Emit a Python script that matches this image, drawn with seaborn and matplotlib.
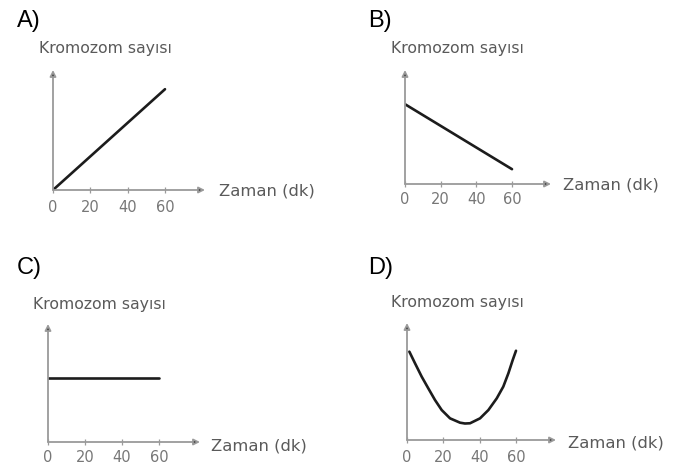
import numpy as np
import pandas as pd
import seaborn as sns
import matplotlib.pyplot as plt

# Values (y in units of 0-10 along each arrow axis)
zaman_A = [0, 60]
kromozom_A = [0, 8.4]

zaman_B = [0, 60]
kromozom_B = [7.0, 1.3]

zaman_C = [0, 60]
kromozom_C = [5.4, 5.4]

zaman_D = [1.3, 4.4, 8.1, 11.7, 15.4, 19.1, 23.7, 29.2, 31.9, 34.7,
           40.2, 44.8, 49.4, 53.0, 55.8, 58.2, 60.0]
kromozom_D = [7.55, 6.56, 5.41, 4.42, 3.42, 2.56, 1.85, 1.48, 1.41, 1.43,
              1.85, 2.56, 3.56, 4.56, 5.70, 6.84, 7.63]

tick_vals = [0, 20, 40, 60]
tick_labels = ['0', '20', '40', '60']
panel_letters = ['A)', 'B)', 'C)', 'D)']
y_title = 'Kromozom sayısı'
x_title = 'Zaman (dk)'

sns.set_style('white')
plt.rcParams['font.family'] = ['DejaVu Sans']

W, H = 680, 467
fig = plt.figure(figsize=(W / 100, H / 100), dpi=100)

AXIS_GRAY = '#9a9a9a'
TEXT_GRAY = '#5a5a5a'
LINE_COL = '#1c1c1c'


def fx(px):
    return px / W


def fy(py):
    return 1 - py / H


# pixel layout: origin x/y, y-arrow top, x of tick 60, x-arrow end,
# letter pos, y-title pos, x-title pos, tick label centre y
layouts = [
    dict(ox=53, oy=190, top=70, t60=165, xend=205, letter=(17, 21), ytit=(39, 49), xtit=(219, 191), tly=207),
    dict(ox=405, oy=184, top=70, t60=512, xend=551, letter=(368, 21), ytit=(391, 49), xtit=(563, 185), tly=200),
    dict(ox=48, oy=442, top=324, t60=159, xend=200, letter=(17, 268), ytit=(33, 305), xtit=(211, 446), tly=458),
    dict(ox=407, oy=440, top=323, t60=516, xend=556, letter=(368, 268), ytit=(391, 303), xtit=(568, 443), tly=457),
]
series = [(zaman_A, kromozom_A), (zaman_B, kromozom_B), (zaman_C, kromozom_C), (zaman_D, kromozom_D)]

for lay, (xs, ys), letter in zip(layouts, series, panel_letters):
    ax = fig.add_axes([fx(lay['ox']), fy(lay['oy']), (lay['xend'] - lay['ox']) / W, (lay['oy'] - lay['top']) / H])
    ax.set_facecolor('none')
    xmax = 60 * (lay['xend'] - lay['ox']) / (lay['t60'] - lay['ox'])
    df = pd.DataFrame({'zaman': xs, 'kromozom': ys})
    sns.lineplot(data=df, x='zaman', y='kromozom', ax=ax, color=LINE_COL, lw=1.9, sort=False)
    ax.lines[-1].set_solid_joinstyle('round')
    ax.set_xlim(0, xmax)
    ax.set_ylim(0, 10)
    for s in ax.spines.values():
        s.set_visible(False)
    ax.set_xlabel('')
    ax.set_ylabel('')
    ax.set_yticks([])
    ax.set_xticks(tick_vals)
    ax.set_xticklabels([])
    ax.tick_params(axis='x', direction='inout', length=5, width=0.9, color=AXIS_GRAY, bottom=True)

    # arrow axes
    for tip in [(1, 0), (0, 1)]:
        ax.annotate('', xy=tip, xytext=(0, 0), xycoords='axes fraction',
                    arrowprops=dict(arrowstyle='-|>', lw=1.3, mutation_scale=9,
                                    shrinkA=0, shrinkB=0, fc='#3a3a3a', ec=AXIS_GRAY))

    # tick labels
    for v, lab in zip(tick_vals, tick_labels):
        px = lay['ox'] + v / 60 * (lay['t60'] - lay['ox'])
        fig.text(fx(px), fy(lay['tly']), lab, ha='center', va='center', fontsize=10.5, color='#777777')

    fig.text(fx(lay['letter'][0]), fy(lay['letter'][1]), letter, ha='left', va='center',
             fontsize=17, color='black', family='Liberation Sans')
    fig.text(fx(lay['ytit'][0]), fy(lay['ytit'][1]), y_title, ha='left', va='center',
             fontsize=11.3, color=TEXT_GRAY)
    fig.text(fx(lay['xtit'][0]), fy(lay['xtit'][1]), x_title, ha='left', va='center',
             fontsize=11.8, color=TEXT_GRAY)

fig.savefig('out.png', dpi=100, facecolor='white')
